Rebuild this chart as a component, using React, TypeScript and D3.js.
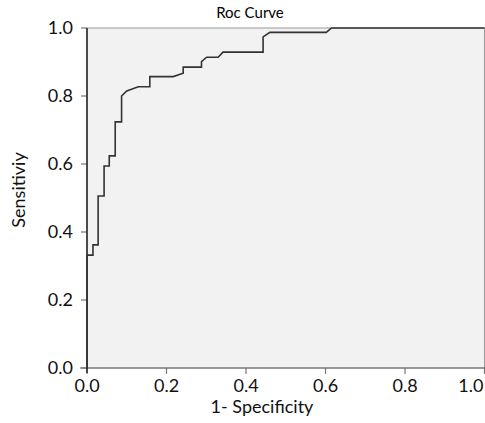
import React from "react";
import { scaleLinear, line } from "d3";

// ROC points: 1 - specificity vs sensitivity
const fpr = [
  0, 0, 0.015, 0.015, 0.028, 0.028, 0.043, 0.043, 0.056, 0.056, 0.071, 0.071,
  0.087, 0.087, 0.1, 0.129, 0.158, 0.158, 0.217, 0.242, 0.242, 0.288, 0.288,
  0.301, 0.33, 0.342, 0.443, 0.443, 0.46, 0.602, 0.615, 1,
];
const tpr = [
  0, 0.332, 0.332, 0.362, 0.362, 0.506, 0.506, 0.594, 0.594, 0.624, 0.624,
  0.724, 0.724, 0.8, 0.815, 0.827, 0.827, 0.857, 0.857, 0.867, 0.885, 0.885,
  0.901, 0.914, 0.914, 0.929, 0.929, 0.974, 0.987, 0.987, 1, 1,
];
const xTicks = [0, 0.2, 0.4, 0.6, 0.8, 1.0];
const yTicks = [0, 0.2, 0.4, 0.6, 0.8, 1.0];

const width = 485;
const height = 423;
const margin = { top: 28, right: 0, bottom: 55, left: 87 };
const font = "Lato, 'Open Sans', sans-serif";

export default function App() {
  const innerWidth = width - margin.left - margin.right;
  const innerHeight = height - margin.top - margin.bottom;

  const xScale = scaleLinear().domain([0, 1]).range([0, innerWidth - 0.5]);
  const yScale = scaleLinear().domain([0, 1]).range([innerHeight, 0]);

  const points = fpr.map((x, i) => [x, tpr[i]] as [number, number]);
  const path = line<[number, number]>()
    .x((d) => xScale(d[0]))
    .y((d) => yScale(d[1]))(points);

  return (
    <svg
      width={width}
      height={height}
      style={{ position: "absolute", left: 0, top: 0, background: "#fff" }}
    >
      <text
        x={250}
        y={18}
        textAnchor="middle"
        fontFamily={font}
        fontSize={15}
        fill="#000"
      >
        Roc Curve
      </text>
      <g transform={`translate(${margin.left},${margin.top})`}>
        <rect
          x={0}
          y={0}
          width={innerWidth - 0.5}
          height={innerHeight}
          fill="#f2f2f2"
          stroke="#999"
          strokeWidth={1}
        />
        {yTicks.map((t) => (
          <g key={"y" + t} transform={`translate(0,${yScale(t)})`}>
            <line x1={-6} x2={0} stroke="#777" strokeWidth={1.2} />
            <text
              x={-14}
              dy=".35em"
              textAnchor="end"
              fontFamily={font}
              fontSize={18}
              fill="#111"
            >
              {t.toFixed(1)}
            </text>
          </g>
        ))}
        {xTicks.map((t, i) => {
          const last = i === xTicks.length - 1;
          return (
            <g key={"x" + t} transform={`translate(${xScale(t)},${innerHeight})`}>
              <line y1={0} y2={6} stroke="#777" strokeWidth={1.2} />
              <text
                x={last ? -1 : 0}
                y={24}
                textAnchor={last ? "end" : "middle"}
                fontFamily={font}
                fontSize={18}
                fill="#111"
              >
                {t.toFixed(1)}
              </text>
            </g>
          );
        })}
        <line x1={-7} x2={innerWidth} y1={innerHeight} y2={innerHeight} stroke="#666" strokeWidth={1.2} />
        <line x1={0} x2={0} y1={0} y2={innerHeight + 5} stroke="#222" strokeWidth={1.5} />
        <path d={path ?? ""} fill="none" stroke="#333" strokeWidth={1.6} />
        <text
          x={175}
          y={innerHeight + 45}
          textAnchor="middle"
          fontFamily={font}
          fontSize={18}
          fill="#111"
        >
          1- Specificity
        </text>
      </g>
      <text
        transform={`translate(25,190) rotate(-90)`}
        textAnchor="middle"
        fontFamily={font}
        fontSize={18}
        fill="#111"
      >
        Sensitiviy
      </text>
    </svg>
  );
}
